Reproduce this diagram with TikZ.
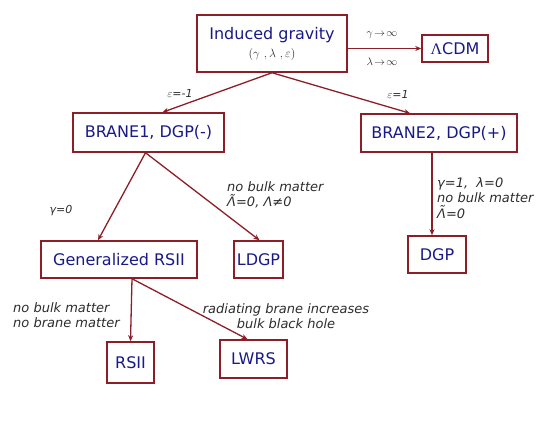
\documentclass[tikz,border=0pt]{standalone}
\usepackage{fontspec}
\setmainfont{DejaVu Sans}
\newfontfamily\grkserif{Liberation Serif}
\usetikzlibrary{calc,arrows.meta}
\definecolor{boxred}{RGB}{140,30,40}
\definecolor{navy}{RGB}{25,25,135}
\definecolor{lblgray}{RGB}{45,45,45}
\newcommand{\tLam}{\ooalign{Λ\cr\hidewidth\smash{\raisebox{0.2em}{\char"02DC}}\hidewidth\cr}}
\tikzset{
  box/.style={draw=boxred, line width=1.5pt, text=navy, inner sep=0pt,
    font=\fontsize{16}{19}\selectfont, align=center},
  arr/.style={draw=boxred, line width=1.3pt, -{Stealth[length=6pt,width=5pt]}},
  lbl/.style={text=lblgray, inner sep=0pt, font=\fontsize{13}{15.5}\selectfont\itshape},
  smalllbl/.style={text=lblgray, inner sep=0pt, font=\fontsize{11}{13}\selectfont}
}
\begin{document}
\begin{tikzpicture}[x=1pt,y=-1pt]
\useasboundingbox (0,0) rectangle (557,436);
% boxes
\node[box, minimum width=150pt, minimum height=57pt] (ig) at (272,43.5)
  {Induced gravity\\[-1pt]{\color{lblgray}\fontsize{12.5}{14}\selectfont$(\gamma\ ,\lambda\ ,\varepsilon)$}};
\node[box, minimum width=66pt, minimum height=27pt] (lcdm) at (455,48.5) {{\grkserif Λ}CDM};
\node[box, minimum width=151pt, minimum height=39pt] (b1) at (148.5,132.5) {BRANE1, DGP(-)};
\node[box, minimum width=156pt, minimum height=38pt] (b2) at (439,133) {BRANE2, DGP(+)};
\node[box, minimum width=156pt, minimum height=37pt] (grsii) at (119,259.5) {Generalized RSII};
\node[box, minimum width=49pt, minimum height=37pt] (ldgp) at (258.5,259.5) {LDGP};
\node[box, minimum width=58pt, minimum height=37pt] (dgp) at (437,254.5) {DGP};
\node[box, minimum width=47pt, minimum height=41pt] (rsii) at (130.5,362.5) {RSII};
\node[box, minimum width=67pt, minimum height=38pt] (lwrs) at (253.5,359) {LWRS};
% connectors
\draw[arr] (ig.east |- lcdm.west) -- (lcdm.west);
\draw[arr] (ig.south) -- ($(b1.north)+(14,0)$);
\draw[arr] (ig.south) -- ($(b2.north)+(-29,0)$);
\draw[arr] ($(b1.south)+(-3,0)$) -- ($(grsii.north)+(-21,0)$);
\draw[arr] ($(b1.south)+(-3,0)$) -- ($(ldgp.north)+(1,0)$);
\coordinate (dgptop) at ($(dgp.north)+(-5,0)$);
\draw[arr] (dgptop |- b2.south) -- (dgptop);
\draw[arr] ($(grsii.south)+(13,0)$) -- (rsii.north);
\draw[arr] ($(grsii.south)+(13,0)$) -- ($(lwrs.north)+(-6,0)$);
% labels
\node[smalllbl] (l1) at (382,35) {$\gamma\!\rightarrow\!\infty$};
\node[smalllbl] (l2) at (382,62) {$\lambda\!\rightarrow\!\infty$};
\node[lbl, font=\fontsize{11}{13}\selectfont\itshape] (l3) at (180,93) {$\varepsilon$=-1};
\node[lbl, font=\fontsize{11}{13}\selectfont\itshape] (l4) at (398,94) {$\varepsilon$=1};
\node[lbl, font=\fontsize{11}{13}\selectfont\itshape] (l5) at (61,211) {γ=0};
\node[lbl, anchor=west, align=left] (l6) at (227,195) {no bulk matter\\\tLam=0, Λ≠0};
\node[lbl, anchor=west, align=left] (l7) at (437,198) {γ=1, \ λ=0\\no bulk matter\\\tLam=0};
\node[lbl, anchor=west, align=left] (l8) at (13,315) {no bulk matter\\no brane matter};
\node[lbl, align=center] (l9) at (286,316) {radiating brane increases\\bulk black hole};
\end{tikzpicture}
\end{document}
